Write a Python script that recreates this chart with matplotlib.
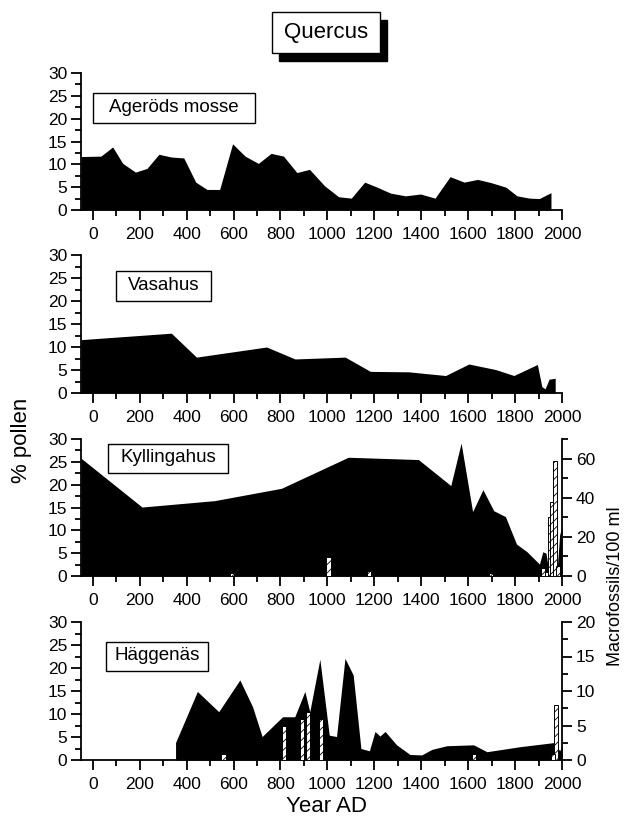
import matplotlib
matplotlib.use("Agg")
import matplotlib.pyplot as plt
from matplotlib.patches import Rectangle
from matplotlib.ticker import MultipleLocator

plt.rcParams['font.family'] = ['Liberation Sans', 'DejaVu Sans']
plt.rcParams['hatch.linewidth'] = 0.6

# --- data ---
agerod_year = [-50, 35, 85, 128, 182, 231, 282, 335, 388, 439, 487, 541, 596, 649, 706,
               760, 813, 870, 924, 988, 1048, 1102, 1159, 1212, 1269, 1333, 1397, 1459,
               1523, 1583, 1640, 1697, 1761, 1808, 1861, 1903, 1953]
agerod_pct = [11.7, 11.8, 13.8, 10.2, 8.3, 9.1, 12.2, 11.6, 11.4, 6.1, 4.5, 4.5, 14.5, 11.8,
              10.2, 12.4, 11.8, 8.2, 8.9, 5.3, 2.9, 2.6, 6.1, 5.0, 3.7, 3.1, 3.5, 2.6, 7.3,
              6.1, 6.7, 6.0, 5.0, 3.1, 2.6, 2.5, 3.8]

vasa_year = [-50, 335, 442, 741, 862, 1076, 1183, 1347, 1504, 1603, 1717, 1795, 1895,
             1914, 1928, 1945, 1971]
vasa_pct = [11.6, 13.0, 7.8, 10.0, 7.4, 7.8, 4.7, 4.6, 3.8, 6.3, 5.1, 3.8, 6.2, 1.4, 0.9,
            3.0, 3.2]

kyl_year = [-50, 210, 519, 804, 1089, 1388, 1526, 1570, 1619, 1663, 1709, 1759, 1806,
            1851, 1904, 1918, 1932, 1945, 1978, 1990, 2000]
kyl_pct = [25.8, 15.1, 16.5, 19.2, 26.0, 25.5, 19.8, 29.1, 14.1, 18.9, 14.3, 13.0, 7.0,
           5.3, 2.6, 5.3, 5.0, 0.5, 0.5, 9.0, 11.0]
kyl_bar_year = [418, 592, 1005, 1178, 1697, 1920, 1935, 1948, 1958, 1970, 1982]
kyl_bar_n = [0.5, 1.4, 9.7, 2.5, 1.5, 4, 2, 30, 38, 59, 5]

hag_year = [353, 353, 446, 537, 627, 681, 722, 809, 861, 904, 925, 968, 1008, 1039, 1075,
            1110, 1143, 1179, 1203, 1224, 1246, 1295, 1352, 1402, 1445, 1509, 1623, 1680,
            1822, 1968, 1990, 2000]
hag_pct = [0, 3.8, 14.9, 10.5, 17.4, 11.6, 5.1, 9.4, 9.4, 14.9, 10.5, 21.9, 5.4, 5.1, 22.1,
           18.5, 2.5, 2.0, 6.2, 5.2, 6.2, 3.3, 1.2, 1.1, 2.3, 3.1, 3.3, 1.8, 2.9, 3.8, 2.0,
           3.0]
hag_bar_year = [557, 815, 892, 916, 973, 1624, 1975, 1960]
hag_bar_n = [0.9, 4.9, 5.9, 6.9, 5.9, 0.9, 8.0, 0.9]

sites = ["Ageröds mosse", "Vasahus", "Kyllingahus", "Häggenäs"]
year_ticks = list(range(0, 2001, 200))

W, H = 630, 823
fig = plt.figure(figsize=(W / 100, H / 100), dpi=100)


def fx(px):
    return px / W


def fy(py):
    return 1 - py / H


# panel top/bottom in pixels
panel_px = [(73, 210), (255, 393), (439, 576), (622, 760)]
# label box: center x, center y, width, height (pixels)
box_px = [(174, 108, 162, 30), (164, 286, 95, 30), (168, 458, 119, 29), (157, 656, 102, 29)]

left, right = 81, 562
axes = []
for (top, bot) in panel_px:
    ax = fig.add_axes([fx(left), fy(bot), fx(right - left), (bot - top) / H])
    ax.set_xlim(-50, 2000)
    ax.set_ylim(0, 30)
    for s in ["top", "right"]:
        ax.spines[s].set_visible(False)
    for s in ["left", "bottom"]:
        ax.spines[s].set_linewidth(1.3)
    ax.set_xticks(year_ticks)
    ax.xaxis.set_minor_locator(MultipleLocator(100))
    ax.yaxis.set_major_locator(MultipleLocator(5))
    ax.yaxis.set_minor_locator(MultipleLocator(2.5))
    ax.tick_params(which="major", length=7, width=1.3, labelsize=12.5, direction="out")
    ax.tick_params(which="minor", length=4, width=1.3, direction="out")
    ax.tick_params(axis="x", pad=5)
    ax.tick_params(axis="y", pad=3)
    axes.append(ax)

series = [(agerod_year, agerod_pct), (vasa_year, vasa_pct),
          (kyl_year, kyl_pct), (hag_year, hag_pct)]
for ax, (yr, pc) in zip(axes, series):
    ax.fill_between(yr, pc, 0, color="black", linewidth=0)

# site name boxes
for ax, name, (cx, cy, bw, bh), (top, bot) in zip(axes, sites, box_px, panel_px):
    x0 = (cx - bw / 2 - left) / (right - left)
    y0 = (bot - (cy + bh / 2)) / (bot - top)
    ax.add_patch(Rectangle((x0, y0), bw / (right - left), bh / (bot - top),
                           transform=ax.transAxes, facecolor="white",
                           edgecolor="black", linewidth=1, zorder=5))
    ax.text((cx - left) / (right - left), (bot - cy) / (bot - top), name,
            transform=ax.transAxes, ha="center", va="center", fontsize=13.5, zorder=6)

# macrofossil bars on right axes
bar_sets = [(axes[2], kyl_bar_year, kyl_bar_n, 70, [0, 20, 40, 60], 10),
            (axes[3], hag_bar_year, hag_bar_n, 20, [0, 5, 10, 15, 20], 2.5)]
for ax, yr, n, top, ticks, minor in bar_sets:
    ax2 = ax.twinx()
    ax2.set_xlim(-50, 2000)
    ax2.set_ylim(0, top)
    for s in ["top", "left", "bottom"]:
        ax2.spines[s].set_visible(False)
    ax2.spines["right"].set_linewidth(1.3)
    ax2.bar(yr, n, width=18, color="white", edgecolor="black", hatch="////",
            linewidth=0.7)
    ax2.set_yticks(ticks)
    ax2.yaxis.set_minor_locator(MultipleLocator(minor))
    ax2.tick_params(which="major", length=7, width=1.3, labelsize=12.5, pad=3)
    ax2.tick_params(which="minor", length=4, width=1.3)

# title with shadow box
tx0, ty0, tx1, ty1 = 272, 12, 380, 53
fig.patches.append(Rectangle((fx(tx0 + 7), fy(ty1 + 8)), fx(tx1 - tx0), (ty1 - ty0) / H,
                             transform=fig.transFigure, facecolor="black",
                             edgecolor="black", zorder=1))
fig.patches.append(Rectangle((fx(tx0), fy(ty1)), fx(tx1 - tx0), (ty1 - ty0) / H,
                             transform=fig.transFigure, facecolor="white",
                             edgecolor="black", linewidth=1, zorder=2))
fig.text(fx((tx0 + tx1) / 2), fy((ty0 + ty1) / 2), "Quercus", ha="center", va="center",
         fontsize=16, zorder=3)

fig.text(fx(22), fy(440), "% pollen", rotation=90, ha="center", va="center", fontsize=16)
fig.text(fx(326), fy(807), "Year AD", ha="center", va="center", fontsize=16)
fig.text(fx(616), fy(586), "Macrofossils/100 ml", rotation=90, ha="center", va="center",
         fontsize=13)

fig.savefig("out.png", dpi=100)
